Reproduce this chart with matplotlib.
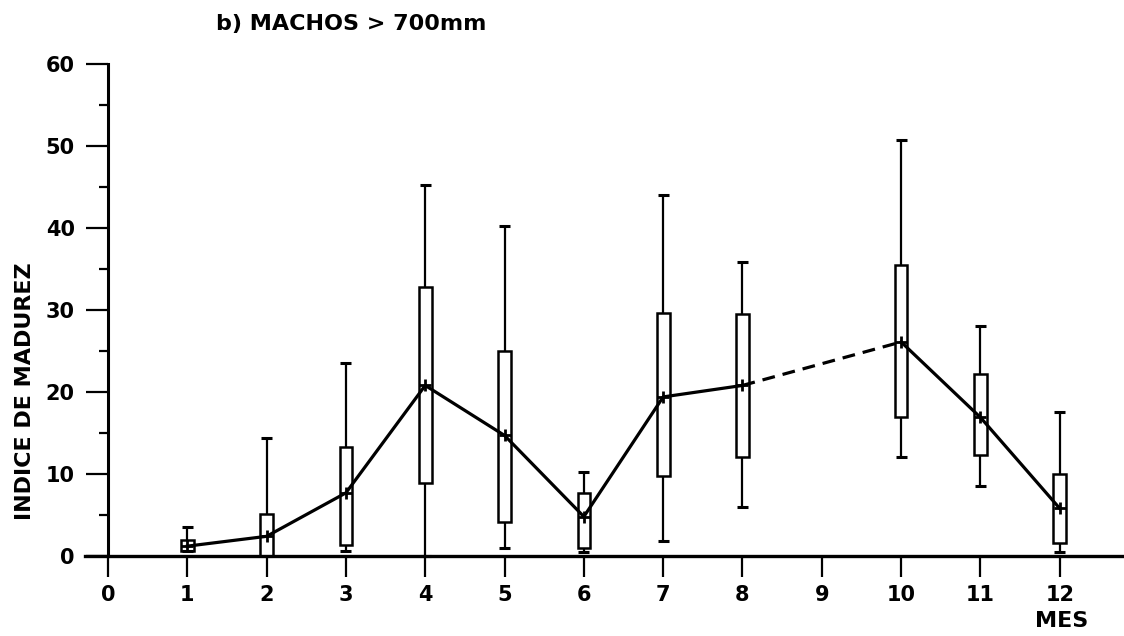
import matplotlib.pyplot as plt
import numpy as np

# valores por mes (no hay muestra en el mes 9)
meses = [1, 2, 3, 4, 5, 6, 7, 8, 10, 11, 12]
media = [1.2, 2.4, 7.7, 20.8, 14.7, 4.8, 19.4, 20.8, 26.1, 16.9, 5.8]
caja_sup = [2.0, 5.1, 13.3, 32.8, 25.0, 7.7, 29.6, 29.5, 35.5, 22.2, 10.0]
caja_inf = [0.6, 0.0, 1.3, 8.9, 4.1, 1.0, 9.7, 12.1, 16.9, 12.3, 1.6]
bigote_sup = [3.5, 14.4, 23.5, 45.2, 40.2, 10.3, 44.0, 35.9, 50.7, 28.1, 17.5]
bigote_inf = [0.6, 0.0, 0.6, 0.0, 1.0, 0.5, 1.8, 6.0, 12.1, 8.5, 0.5]

ticks_x = list(range(0, 13))
ticks_y = [0, 10, 20, 30, 40, 50, 60]

plt.rcParams['font.family'] = 'DejaVu Sans'
plt.rcParams['font.weight'] = 'bold'

fig = plt.figure(figsize=(11.24, 6.36), dpi=100)
ax = fig.add_axes([0.0756, 0.0871, 0.9244, 0.8123])

m = np.array(meses, dtype=float)
med = np.array(media)
c_sup = np.array(caja_sup)
c_inf = np.array(caja_inf)

# cajas
ax.bar(m, c_sup - c_inf, bottom=c_inf, width=0.16, fill=False,
       edgecolor='black', linewidth=1.8, zorder=3)

# bigotes con sus topes
ax.vlines(m, c_sup, bigote_sup, color='black', linewidth=1.6, zorder=3)
ax.vlines(m, bigote_inf, c_inf, color='black', linewidth=1.6, zorder=3)
ax.hlines(bigote_sup, m - 0.07, m + 0.07, color='black', linewidth=2.2, zorder=3)
ax.hlines(bigote_inf, m - 0.07, m + 0.07, color='black', linewidth=2.2, zorder=3)

# linea de medias: continua hasta agosto, discontinua de agosto a octubre
ax.plot(m[:8], med[:8], color='black', linewidth=2.3, zorder=4)
ax.plot(m[7:9], med[7:9], color='black', linewidth=2.3, linestyle=(0, (4, 2.5)), zorder=4)
ax.plot(m[8:], med[8:], color='black', linewidth=2.3, zorder=4)
ax.plot(m, med, linestyle='none', marker='+', markersize=9,
        markeredgewidth=2, color='black', zorder=5)

ax.set_xlim(-0.29, 12.81)
ax.set_ylim(-3, 60)

for lado in ['top', 'right']:
    ax.spines[lado].set_visible(False)
ax.spines['left'].set_position(('data', 0))
ax.spines['left'].set_bounds(0, 60)
ax.spines['bottom'].set_position(('data', 0))
ax.spines['left'].set_linewidth(2.2)
ax.spines['bottom'].set_linewidth(2.4)

ax.set_xticks(ticks_x)
ax.set_xticklabels([str(t) for t in ticks_x])
ax.set_yticks(ticks_y)
ax.set_yticklabels([str(t) for t in ticks_y])
ax.set_yticks([5, 15, 25, 35, 45, 55], minor=True)

ax.tick_params(axis='x', direction='out', length=15, width=1.6, pad=6, labelsize=15)
ax.tick_params(axis='y', which='major', direction='out', length=16, width=1.6, pad=8, labelsize=15)
ax.tick_params(axis='y', which='minor', direction='out', length=6.5, width=1.6)
for t in ax.get_xticklabels() + ax.get_yticklabels():
    t.set_fontweight('bold')

fig.text(351 / 1124, 1 - 24 / 636, 'b) MACHOS > 700mm', fontsize=16,
         fontweight='bold', ha='center', va='center')
fig.text(25 / 1124, 1 - 391 / 636, 'INDICE DE MADUREZ', fontsize=16,
         fontweight='bold', rotation=90, ha='center', va='center')
fig.text(1062 / 1124, 1 - 621 / 636, 'MES', fontsize=16,
         fontweight='bold', ha='center', va='center')

fig.savefig('out.png', dpi=100)
